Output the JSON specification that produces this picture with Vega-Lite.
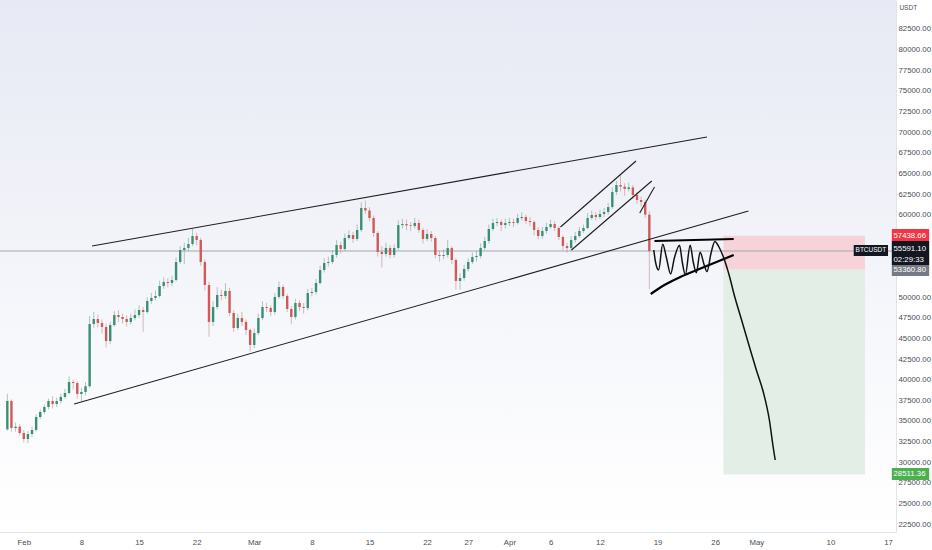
{
  "$schema": "https://vega.github.io/schema/vega-lite/v6.json",
  "width": 896,
  "height": 532,
  "autosize": {"type": "none"},
  "padding": {"left": 0, "top": 0, "right": 36, "bottom": 18},
  "background": "#ffffff",
  "config": {
    "view": {"stroke": null, "fill": {"gradient": "linear", "x1": 0, "y1": 0, "x2": 0, "y2": 1, "stops": [{"offset": 0, "color": "#e7e9f4"}, {"offset": 0.6, "color": "#f6f7fb"}, {"offset": 1, "color": "#ffffff"}]}},
    "axis": {"labelFont": "Liberation Sans", "labelFontSize": 7.8, "labelColor": "#4a4d55", "ticks": false, "grid": false, "domainColor": "#e0e3eb", "labelOverlap": false, "labelBound": false, "labelFlush": false},
    "text": {"font": "Liberation Sans"}
  },
  "datasets": {
    "candles": [
      {"d":"2021-01-30T00:00:00Z","o":34000,"h":38300,"l":33800,"c":37400},
      {"d":"2021-01-30T12:00:00Z","o":37400,"h":37600,"l":33700,"c":34140},
      {"d":"2021-01-31T00:00:00Z","o":34140,"h":34800,"l":33700,"c":34300},
      {"d":"2021-01-31T12:00:00Z","o":34300,"h":34600,"l":33200,"c":33530},
      {"d":"2021-02-01T00:00:00Z","o":33530,"h":33900,"l":32400,"c":32800},
      {"d":"2021-02-01T12:00:00Z","o":32800,"h":33800,"l":32300,"c":33410},
      {"d":"2021-02-02T00:00:00Z","o":33410,"h":34300,"l":33000,"c":33900},
      {"d":"2021-02-02T12:00:00Z","o":33900,"h":35800,"l":33700,"c":35470},
      {"d":"2021-02-03T00:00:00Z","o":35470,"h":36400,"l":35200,"c":36080},
      {"d":"2021-02-03T12:00:00Z","o":36080,"h":37000,"l":35800,"c":36680},
      {"d":"2021-02-04T00:00:00Z","o":36680,"h":37700,"l":36400,"c":37410},
      {"d":"2021-02-04T12:00:00Z","o":37410,"h":38000,"l":36500,"c":37050},
      {"d":"2021-02-05T00:00:00Z","o":37050,"h":37800,"l":36700,"c":37410},
      {"d":"2021-02-05T12:00:00Z","o":37410,"h":38300,"l":37100,"c":37900},
      {"d":"2021-02-06T00:00:00Z","o":37900,"h":38900,"l":37700,"c":38380},
      {"d":"2021-02-06T12:00:00Z","o":38380,"h":40400,"l":38200,"c":39710},
      {"d":"2021-02-07T00:00:00Z","o":39710,"h":40000,"l":38800,"c":39590},
      {"d":"2021-02-07T12:00:00Z","o":39590,"h":39800,"l":37700,"c":38260},
      {"d":"2021-02-08T00:00:00Z","o":38260,"h":39000,"l":37400,"c":38500},
      {"d":"2021-02-08T12:00:00Z","o":38500,"h":39700,"l":38100,"c":39200},
      {"d":"2021-02-09T00:00:00Z","o":39200,"h":47700,"l":39000,"c":46740},
      {"d":"2021-02-09T12:00:00Z","o":46740,"h":48200,"l":46300,"c":47350},
      {"d":"2021-02-10T00:00:00Z","o":47350,"h":47900,"l":46300,"c":46860},
      {"d":"2021-02-10T12:00:00Z","o":46860,"h":47300,"l":45600,"c":46380},
      {"d":"2021-02-11T00:00:00Z","o":46380,"h":46800,"l":43900,"c":44680},
      {"d":"2021-02-11T12:00:00Z","o":44680,"h":47000,"l":44300,"c":46620},
      {"d":"2021-02-12T00:00:00Z","o":46620,"h":48300,"l":46400,"c":47830},
      {"d":"2021-02-12T12:00:00Z","o":47830,"h":48400,"l":47000,"c":47590},
      {"d":"2021-02-13T00:00:00Z","o":47590,"h":48000,"l":46800,"c":47350},
      {"d":"2021-02-13T12:00:00Z","o":47350,"h":47800,"l":46400,"c":46990},
      {"d":"2021-02-14T00:00:00Z","o":46990,"h":48000,"l":46700,"c":47470},
      {"d":"2021-02-14T12:00:00Z","o":47470,"h":48500,"l":47200,"c":47830},
      {"d":"2021-02-15T00:00:00Z","o":47830,"h":49000,"l":47500,"c":48440},
      {"d":"2021-02-15T12:00:00Z","o":48440,"h":48800,"l":45800,"c":48200},
      {"d":"2021-02-16T00:00:00Z","o":48200,"h":50000,"l":48000,"c":49530},
      {"d":"2021-02-16T12:00:00Z","o":49530,"h":50500,"l":49200,"c":49900},
      {"d":"2021-02-17T00:00:00Z","o":49900,"h":50800,"l":49600,"c":50140},
      {"d":"2021-02-17T12:00:00Z","o":50140,"h":52000,"l":49900,"c":51350},
      {"d":"2021-02-18T00:00:00Z","o":51350,"h":52400,"l":51000,"c":51840},
      {"d":"2021-02-18T12:00:00Z","o":51840,"h":52300,"l":51200,"c":51710},
      {"d":"2021-02-19T00:00:00Z","o":51710,"h":52600,"l":51300,"c":52080},
      {"d":"2021-02-19T12:00:00Z","o":52080,"h":54800,"l":51900,"c":54260},
      {"d":"2021-02-20T00:00:00Z","o":54260,"h":56200,"l":54000,"c":55710},
      {"d":"2021-02-20T12:00:00Z","o":55710,"h":56600,"l":54000,"c":55960},
      {"d":"2021-02-21T00:00:00Z","o":55960,"h":57200,"l":55600,"c":56440},
      {"d":"2021-02-21T12:00:00Z","o":56440,"h":58300,"l":56200,"c":57410},
      {"d":"2021-02-22T00:00:00Z","o":57410,"h":57800,"l":56300,"c":56930},
      {"d":"2021-02-22T12:00:00Z","o":56930,"h":57200,"l":53800,"c":54260},
      {"d":"2021-02-23T00:00:00Z","o":54260,"h":54600,"l":50800,"c":51470},
      {"d":"2021-02-23T12:00:00Z","o":51470,"h":51900,"l":45200,"c":46990},
      {"d":"2021-02-24T00:00:00Z","o":46990,"h":49500,"l":46500,"c":48800},
      {"d":"2021-02-24T12:00:00Z","o":48800,"h":51200,"l":48500,"c":50260},
      {"d":"2021-02-25T00:00:00Z","o":50260,"h":50900,"l":49600,"c":50140},
      {"d":"2021-02-25T12:00:00Z","o":50140,"h":51700,"l":49800,"c":50740},
      {"d":"2021-02-26T00:00:00Z","o":50740,"h":51100,"l":47700,"c":48080},
      {"d":"2021-02-26T12:00:00Z","o":48080,"h":48400,"l":45800,"c":46260},
      {"d":"2021-02-27T00:00:00Z","o":46260,"h":48000,"l":46000,"c":47470},
      {"d":"2021-02-27T12:00:00Z","o":47470,"h":48200,"l":46500,"c":46990},
      {"d":"2021-02-28T00:00:00Z","o":46990,"h":47300,"l":45400,"c":46020},
      {"d":"2021-02-28T12:00:00Z","o":46020,"h":46200,"l":43400,"c":44200},
      {"d":"2021-03-01T00:00:00Z","o":44200,"h":46200,"l":43800,"c":45650},
      {"d":"2021-03-01T12:00:00Z","o":45650,"h":48000,"l":45400,"c":47470},
      {"d":"2021-03-02T00:00:00Z","o":47470,"h":49500,"l":47200,"c":48800},
      {"d":"2021-03-02T12:00:00Z","o":48800,"h":49300,"l":48200,"c":48680},
      {"d":"2021-03-03T00:00:00Z","o":48680,"h":49000,"l":47700,"c":48200},
      {"d":"2021-03-03T12:00:00Z","o":48200,"h":50500,"l":47900,"c":50020},
      {"d":"2021-03-04T00:00:00Z","o":50020,"h":51900,"l":49800,"c":51230},
      {"d":"2021-03-04T12:00:00Z","o":51230,"h":51500,"l":49800,"c":50140},
      {"d":"2021-03-05T00:00:00Z","o":50140,"h":50400,"l":48200,"c":48560},
      {"d":"2021-03-05T12:00:00Z","o":48560,"h":48900,"l":46700,"c":47590},
      {"d":"2021-03-06T00:00:00Z","o":47590,"h":49800,"l":47300,"c":49290},
      {"d":"2021-03-06T12:00:00Z","o":49290,"h":49600,"l":48300,"c":48800},
      {"d":"2021-03-07T00:00:00Z","o":48800,"h":49300,"l":48000,"c":48680},
      {"d":"2021-03-07T12:00:00Z","o":48680,"h":51000,"l":48400,"c":50500},
      {"d":"2021-03-08T00:00:00Z","o":50500,"h":51100,"l":50100,"c":50620},
      {"d":"2021-03-08T12:00:00Z","o":50620,"h":52200,"l":50300,"c":51710},
      {"d":"2021-03-09T00:00:00Z","o":51710,"h":53800,"l":51500,"c":53290},
      {"d":"2021-03-09T12:00:00Z","o":53290,"h":54700,"l":53000,"c":54140},
      {"d":"2021-03-10T00:00:00Z","o":54140,"h":54900,"l":53700,"c":54260},
      {"d":"2021-03-10T12:00:00Z","o":54260,"h":55700,"l":54000,"c":55110},
      {"d":"2021-03-11T00:00:00Z","o":55110,"h":56900,"l":54800,"c":56320},
      {"d":"2021-03-11T12:00:00Z","o":56320,"h":56700,"l":55300,"c":55830},
      {"d":"2021-03-12T00:00:00Z","o":55830,"h":57700,"l":55600,"c":57170},
      {"d":"2021-03-12T12:00:00Z","o":57170,"h":58100,"l":57000,"c":57530},
      {"d":"2021-03-13T00:00:00Z","o":57530,"h":57900,"l":56600,"c":57050},
      {"d":"2021-03-13T12:00:00Z","o":57050,"h":58800,"l":56800,"c":58140},
      {"d":"2021-03-14T00:00:00Z","o":58140,"h":61500,"l":57900,"c":60800},
      {"d":"2021-03-14T12:00:00Z","o":60800,"h":61700,"l":60100,"c":60500},
      {"d":"2021-03-15T00:00:00Z","o":60500,"h":60900,"l":59200,"c":59590},
      {"d":"2021-03-15T12:00:00Z","o":59590,"h":59900,"l":57300,"c":57770},
      {"d":"2021-03-16T00:00:00Z","o":57770,"h":58000,"l":54900,"c":55470},
      {"d":"2021-03-16T12:00:00Z","o":55470,"h":56200,"l":53600,"c":55230},
      {"d":"2021-03-17T00:00:00Z","o":55230,"h":56600,"l":54900,"c":55960},
      {"d":"2021-03-17T12:00:00Z","o":55960,"h":56300,"l":54700,"c":55110},
      {"d":"2021-03-18T00:00:00Z","o":55110,"h":56400,"l":54800,"c":55960},
      {"d":"2021-03-18T12:00:00Z","o":55960,"h":59300,"l":55700,"c":58730},
      {"d":"2021-03-19T00:00:00Z","o":58730,"h":59500,"l":58300,"c":58860},
      {"d":"2021-03-19T12:00:00Z","o":58860,"h":59400,"l":58100,"c":58700},
      {"d":"2021-03-20T00:00:00Z","o":58700,"h":59100,"l":58000,"c":58620},
      {"d":"2021-03-20T12:00:00Z","o":58620,"h":59600,"l":58300,"c":58990},
      {"d":"2021-03-21T00:00:00Z","o":58990,"h":59400,"l":57800,"c":58140},
      {"d":"2021-03-21T12:00:00Z","o":58140,"h":58400,"l":56500,"c":57050},
      {"d":"2021-03-22T00:00:00Z","o":57050,"h":58200,"l":56800,"c":57650},
      {"d":"2021-03-22T12:00:00Z","o":57650,"h":58000,"l":56700,"c":57170},
      {"d":"2021-03-23T00:00:00Z","o":57170,"h":57400,"l":54700,"c":55110},
      {"d":"2021-03-23T12:00:00Z","o":55110,"h":55600,"l":54300,"c":54990},
      {"d":"2021-03-24T00:00:00Z","o":54990,"h":55800,"l":54600,"c":55110},
      {"d":"2021-03-24T12:00:00Z","o":55110,"h":56900,"l":54800,"c":55950},
      {"d":"2021-03-25T00:00:00Z","o":55950,"h":56200,"l":54000,"c":54500},
      {"d":"2021-03-25T12:00:00Z","o":54500,"h":54700,"l":50900,"c":51960},
      {"d":"2021-03-26T00:00:00Z","o":51960,"h":52900,"l":50900,"c":52320},
      {"d":"2021-03-26T12:00:00Z","o":52320,"h":53900,"l":52000,"c":53410},
      {"d":"2021-03-27T00:00:00Z","o":53410,"h":54700,"l":53100,"c":54260},
      {"d":"2021-03-27T12:00:00Z","o":54260,"h":55400,"l":54000,"c":54860},
      {"d":"2021-03-28T00:00:00Z","o":54860,"h":55600,"l":54300,"c":54990},
      {"d":"2021-03-28T12:00:00Z","o":54990,"h":56500,"l":54700,"c":55960},
      {"d":"2021-03-29T00:00:00Z","o":55960,"h":57300,"l":55700,"c":56800},
      {"d":"2021-03-29T12:00:00Z","o":56800,"h":58800,"l":56500,"c":58260},
      {"d":"2021-03-30T00:00:00Z","o":58260,"h":59500,"l":58000,"c":58980},
      {"d":"2021-03-30T12:00:00Z","o":58980,"h":59600,"l":58600,"c":59110},
      {"d":"2021-03-31T00:00:00Z","o":59110,"h":59400,"l":58000,"c":58740},
      {"d":"2021-03-31T12:00:00Z","o":58740,"h":59500,"l":58300,"c":58980},
      {"d":"2021-04-01T00:00:00Z","o":58980,"h":59600,"l":58600,"c":59110},
      {"d":"2021-04-01T12:00:00Z","o":59110,"h":59500,"l":58500,"c":59000},
      {"d":"2021-04-02T00:00:00Z","o":59000,"h":60100,"l":58800,"c":59590},
      {"d":"2021-04-02T12:00:00Z","o":59590,"h":60300,"l":59300,"c":59710},
      {"d":"2021-04-03T00:00:00Z","o":59710,"h":60000,"l":58900,"c":59230},
      {"d":"2021-04-03T12:00:00Z","o":59230,"h":59700,"l":58600,"c":59100},
      {"d":"2021-04-04T00:00:00Z","o":59100,"h":59300,"l":57500,"c":58140},
      {"d":"2021-04-04T12:00:00Z","o":58140,"h":58500,"l":57000,"c":57410},
      {"d":"2021-04-05T00:00:00Z","o":57410,"h":58500,"l":57100,"c":58020},
      {"d":"2021-04-05T12:00:00Z","o":58020,"h":59000,"l":57700,"c":58500},
      {"d":"2021-04-06T00:00:00Z","o":58500,"h":59400,"l":58300,"c":58860},
      {"d":"2021-04-06T12:00:00Z","o":58860,"h":59200,"l":58000,"c":58380},
      {"d":"2021-04-07T00:00:00Z","o":58380,"h":58600,"l":56900,"c":57290},
      {"d":"2021-04-07T12:00:00Z","o":57290,"h":57500,"l":55700,"c":56200},
      {"d":"2021-04-08T00:00:00Z","o":56200,"h":56600,"l":55400,"c":55950},
      {"d":"2021-04-08T12:00:00Z","o":55950,"h":57400,"l":55600,"c":56920},
      {"d":"2021-04-09T00:00:00Z","o":56920,"h":57900,"l":56600,"c":57410},
      {"d":"2021-04-09T12:00:00Z","o":57410,"h":58500,"l":57200,"c":58020},
      {"d":"2021-04-10T00:00:00Z","o":58020,"h":58800,"l":57800,"c":58380},
      {"d":"2021-04-10T12:00:00Z","o":58380,"h":60200,"l":58200,"c":59590},
      {"d":"2021-04-11T00:00:00Z","o":59590,"h":60500,"l":59400,"c":59960},
      {"d":"2021-04-11T12:00:00Z","o":59960,"h":60300,"l":59300,"c":59710},
      {"d":"2021-04-12T00:00:00Z","o":59710,"h":60600,"l":59500,"c":60080},
      {"d":"2021-04-12T12:00:00Z","o":60080,"h":60800,"l":59700,"c":60320},
      {"d":"2021-04-13T00:00:00Z","o":60320,"h":61400,"l":60000,"c":60920},
      {"d":"2021-04-13T12:00:00Z","o":60920,"h":63300,"l":60700,"c":62740},
      {"d":"2021-04-14T00:00:00Z","o":62740,"h":64100,"l":62400,"c":63590},
      {"d":"2021-04-14T12:00:00Z","o":63590,"h":64800,"l":62800,"c":63400},
      {"d":"2021-04-15T00:00:00Z","o":63400,"h":63800,"l":62300,"c":63110},
      {"d":"2021-04-15T12:00:00Z","o":63110,"h":63900,"l":62800,"c":63300},
      {"d":"2021-04-16T00:00:00Z","o":63300,"h":63600,"l":61900,"c":62380},
      {"d":"2021-04-16T12:00:00Z","o":62380,"h":62700,"l":61300,"c":61770},
      {"d":"2021-04-17T00:00:00Z","o":61770,"h":62200,"l":61000,"c":61530},
      {"d":"2021-04-17T12:00:00Z","o":61530,"h":61800,"l":59600,"c":60000},
      {"d":"2021-04-18T00:00:00Z","o":60000,"h":60400,"l":51000,"c":55591.1}
    ],
    "thinLines": [
      {"g":"up","d":"2021-02-09T07:00:00Z","p":56197},{"g":"up","d":"2021-04-25T00:00:00Z","p":69409},
      {"g":"lo","d":"2021-02-07T03:00:00Z","p":37046},{"g":"lo","d":"2021-04-30T01:00:00Z","p":60440},
      {"g":"c1","d":"2021-04-07T05:00:00Z","p":58500},{"g":"c1","d":"2021-04-16T09:00:00Z","p":66500},
      {"g":"c2","d":"2021-04-08T13:00:00Z","p":55712},{"g":"c2","d":"2021-04-18T07:00:00Z","p":64076},
      {"g":"sm","d":"2021-04-16T20:00:00Z","p":60197},{"g":"sm","d":"2021-04-18T15:00:00Z","p":63349}
    ],
    "thickLines": [
      {"g":"tt","d":"2021-04-18T15:00:00Z","p":56803},{"g":"tt","d":"2021-04-28T06:00:00Z","p":57046},
      {"g":"tl","d":"2021-04-18T04:00:00Z","p":50379},{"g":"tl","d":"2021-04-19T20:00:00Z","p":51470},
      {"g":"tl","d":"2021-04-21T18:00:00Z","p":52440},{"g":"tl","d":"2021-04-24T16:00:00Z","p":53652},
      {"g":"tl","d":"2021-04-28T06:00:00Z","p":55106}
    ],
    "wave": [
      {"d":"2021-04-18T13:00:00Z","p":55712},{"d":"2021-04-18T18:00:00Z","p":54258},
      {"d":"2021-04-19T03:00:00Z","p":53300},{"d":"2021-04-19T15:00:00Z","p":56400},
      {"d":"2021-04-20T02:00:00Z","p":54743},{"d":"2021-04-20T14:00:00Z","p":52800},
      {"d":"2021-04-21T01:00:00Z","p":54743},{"d":"2021-04-21T16:00:00Z","p":56300},
      {"d":"2021-04-22T00:00:00Z","p":54258},{"d":"2021-04-22T09:00:00Z","p":52700},
      {"d":"2021-04-22T23:00:00Z","p":56300},{"d":"2021-04-23T08:00:00Z","p":54258},
      {"d":"2021-04-23T17:00:00Z","p":52950},{"d":"2021-04-24T04:00:00Z","p":55450},
      {"d":"2021-04-24T16:00:00Z","p":53894},{"d":"2021-04-25T00:00:00Z","p":53100},
      {"d":"2021-04-25T12:00:00Z","p":55349},{"d":"2021-04-25T23:00:00Z","p":56750},
      {"d":"2021-04-26T11:00:00Z","p":56076},{"d":"2021-04-27T01:00:00Z","p":54743},
      {"d":"2021-04-27T19:00:00Z","p":52319},{"d":"2021-04-28T06:00:00Z","p":50501},
      {"d":"2021-04-29T05:00:00Z","p":47228},{"d":"2021-04-30T04:00:00Z","p":43955},
      {"d":"2021-05-01T00:00:00Z","p":41167},{"d":"2021-05-01T21:00:00Z","p":38379},
      {"d":"2021-05-02T14:00:00Z","p":35107},{"d":"2021-05-03T01:00:00Z","p":31834},
      {"d":"2021-05-03T07:00:00Z","p":30258}
    ]
  },
  "layer": [
    {
      "data": {"values": [{"d":"2021-04-27T00:00:00Z","d2":"2021-05-14T05:00:00Z","p":53360.8,"p2":28511.36}]},
      "mark": {"type": "rect", "color": "#e3efe6", "opacity": 1},
      "encoding": {
        "x": {"field": "d", "type": "temporal", "title": null, "scale": {"type": "utc", "domain": [1611940348800, 1621240704000]},
          "axis": {"values": [
            {"year":2021,"month":2,"date":1,"utc":true},{"year":2021,"month":2,"date":8,"utc":true},
            {"year":2021,"month":2,"date":15,"utc":true},{"year":2021,"month":2,"date":22,"utc":true},
            {"year":2021,"month":3,"date":1,"utc":true},{"year":2021,"month":3,"date":8,"utc":true},
            {"year":2021,"month":3,"date":15,"utc":true},{"year":2021,"month":3,"date":22,"utc":true},
            {"year":2021,"month":3,"date":27,"utc":true},{"year":2021,"month":4,"date":1,"utc":true},
            {"year":2021,"month":4,"date":6,"utc":true},{"year":2021,"month":4,"date":12,"utc":true},
            {"year":2021,"month":4,"date":19,"utc":true},{"year":2021,"month":4,"date":26,"utc":true},
            {"year":2021,"month":5,"date":1,"utc":true},{"year":2021,"month":5,"date":10,"utc":true},
            {"year":2021,"month":5,"date":17,"utc":true}],
            "labelExpr": "utcdate(datum.value) == 1 ? utcFormat(datum.value, '%b') : '' + utcdate(datum.value)",
            "labelPadding": 6, "labelOverlap": false, "tickCount": 40}},
        "x2": {"field": "d2"},
        "y": {"field": "p", "type": "quantitative", "title": null, "scale": {"domain": [21531, 86015], "zero": false, "nice": false},
          "axis": {"orient": "right", "values": [22500,25000,27500,30000,32500,35000,37500,40000,42500,45000,47500,50000,60000,62500,65000,67500,70000,72500,75000,77500,80000,82500],
            "format": ".2f", "labelPadding": 2, "labelAlign": "left", "labelOverlap": false, "tickCount": 40}},
        "y2": {"field": "p2"}
      }
    },
    {
      "data": {"values": [{"d":"2021-04-27T00:00:00Z","d2":"2021-05-14T05:00:00Z","p":57438.66,"p2":53360.8}]},
      "mark": {"type": "rect", "color": "#f5d3d8"},
      "encoding": {
        "x": {"field": "d", "type": "temporal", "title": null}, "x2": {"field": "d2"},
        "y": {"field": "p", "type": "quantitative", "title": null}, "y2": {"field": "p2"}
      }
    },
    {
      "data": {"values": [{"p": 55591.1}]},
      "mark": {"type": "rule", "color": "#a3a6ad", "strokeWidth": 1},
      "encoding": {"y": {"field": "p", "type": "quantitative", "title": null}}
    },
    {
      "data": {"name": "candles"},
      "mark": {"type": "rule", "strokeWidth": 1, "opacity": 0.55},
      "encoding": {
        "x": {"field": "d", "type": "temporal", "title": null},
        "y": {"field": "l", "type": "quantitative", "title": null},
        "y2": {"field": "h"},
        "color": {"condition": {"test": "datum.c >= datum.o", "value": "#6f9c88"}, "value": "#b88484"}
      }
    },
    {
      "data": {"name": "candles"},
      "mark": {"type": "bar", "size": 2.4},
      "encoding": {
        "x": {"field": "d", "type": "temporal", "title": null},
        "y": {"field": "o", "type": "quantitative", "title": null},
        "y2": {"field": "c"},
        "color": {"condition": {"test": "datum.c >= datum.o", "value": "#3a8f72"}, "value": "#cf5a58"}
      }
    },
    {
      "data": {"name": "thinLines"},
      "mark": {"type": "line", "color": "#1e1e1e", "strokeWidth": 1.1},
      "encoding": {
        "x": {"field": "d", "type": "temporal", "title": null},
        "y": {"field": "p", "type": "quantitative", "title": null},
        "detail": {"field": "g"}
      }
    },
    {
      "data": {"name": "thickLines"},
      "mark": {"type": "line", "color": "#000000", "strokeWidth": 2.2, "interpolate": "monotone"},
      "encoding": {
        "x": {"field": "d", "type": "temporal", "title": null},
        "y": {"field": "p", "type": "quantitative", "title": null},
        "detail": {"field": "g"}
      }
    },
    {
      "data": {"name": "wave"},
      "mark": {"type": "line", "color": "#111111", "strokeWidth": 1.5, "interpolate": "monotone"},
      "encoding": {
        "x": {"field": "d", "type": "temporal", "title": null},
        "y": {"field": "p", "type": "quantitative", "title": null}
      }
    },
    {
      "data": {"values": [
        {"d":"2021-05-17T11:00:00Z","d2":"2021-05-22T00:00:00Z","p":58258,"p2":56803,"k":"r"},
        {"d":"2021-05-17T11:00:00Z","d2":"2021-05-22T00:00:00Z","p":56803,"p2":53900,"k":"b"},
        {"d":"2021-05-17T11:00:00Z","d2":"2021-05-22T00:00:00Z","p":53900,"p2":52560,"k":"g"},
        {"d":"2021-05-17T11:00:00Z","d2":"2021-05-22T00:00:00Z","p":29290,"p2":27835,"k":"n"},
        {"d":"2021-05-12T20:00:00Z","d2":"2021-05-17T00:00:00Z","p":56320,"p2":54985,"k":"b"}
      ]},
      "mark": {"type": "rect"},
      "encoding": {
        "x": {"field": "d", "type": "temporal", "title": null}, "x2": {"field": "d2"},
        "y": {"field": "p", "type": "quantitative", "title": null}, "y2": {"field": "p2"},
        "color": {"field": "k", "type": "nominal", "legend": null, "scale": {"domain": ["r","b","g","n"], "range": ["#f23645","#131722","#787b86","#4caf50"]}}
      }
    },
    {
      "data": {"values": [
        {"d":"2021-05-17T16:00:00Z","p":57438.66,"t":"57438.66"},
        {"d":"2021-05-17T16:00:00Z","p":55834,"t":"55591.10"},
        {"d":"2021-05-17T16:00:00Z","p":54500,"t":"02:29:33"},
        {"d":"2021-05-17T16:00:00Z","p":53228,"t":"53360.80"},
        {"d":"2021-05-17T16:00:00Z","p":28560,"t":"28511.36"}
      ]},
      "mark": {"type": "text", "align": "left", "baseline": "middle", "fontSize": 7.8, "color": "#ffffff"},
      "encoding": {
        "x": {"field": "d", "type": "temporal", "title": null},
        "y": {"field": "p", "type": "quantitative", "title": null},
        "text": {"field": "t"}
      }
    },
    {
      "data": {"values": [{"d":"2021-05-14T22:00:00Z","p":55652,"t":"BTCUSDT"}]},
      "mark": {"type": "text", "align": "center", "baseline": "middle", "fontSize": 6.5, "color": "#ffffff"},
      "encoding": {
        "x": {"field": "d", "type": "temporal", "title": null},
        "y": {"field": "p", "type": "quantitative", "title": null},
        "text": {"field": "t"}
      }
    },
    {
      "data": {"values": [{"d":"2021-05-19T11:00:00Z","p":85000,"t":"USDT"}]},
      "mark": {"type": "text", "align": "center", "baseline": "middle", "fontSize": 6.5, "color": "#4a4d55"},
      "encoding": {
        "x": {"field": "d", "type": "temporal", "title": null},
        "y": {"field": "p", "type": "quantitative", "title": null},
        "text": {"field": "t"}
      }
    }
  ]
}
